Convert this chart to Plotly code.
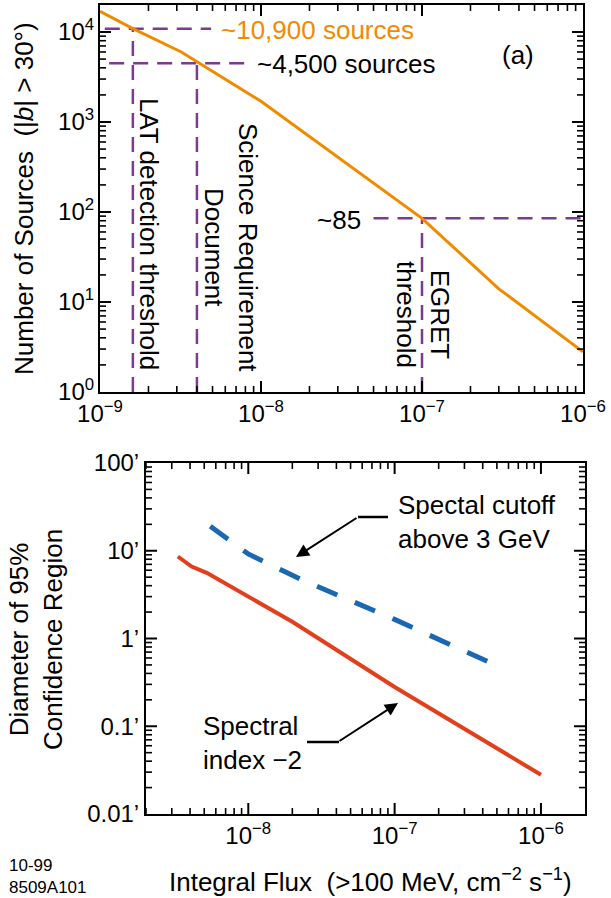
import math
import plotly.graph_objects as go

W, H = 611, 898

# ---------------- Data ----------------
# Panel (a): integral source counts N(>S) for |b| > 30 deg
flux_a = [1e-9, 1.6e-9, 3.2e-9, 1e-8, 1e-7, 3e-7, 1e-6]
nsrc_a = [17000, 10900, 6000, 1700, 85, 14, 2.8]

# Threshold markers: LAT detection, Science Requirement Document, EGRET
thr_flux = [1.6e-9, 4e-9, 1e-7]
thr_count = [10900, 4500, 85]
# extents of the horizontal reference lines (flux)
hline_from = [1.07e-9, 1.14e-9, 5.0e-8]
hline_to = [4.9e-9, 8.1e-9, 1e-6]

# Panel (b): 95% confidence region diameter (arcmin)
flux_red = [3.3e-9, 4.1e-9, 5.2e-9, 1e-8, 2e-8, 1e-7, 1e-6]
diam_red = [8.6, 6.6, 5.6, 3.0, 1.55, 0.28, 0.028]
flux_blue = [5.5e-9, 1e-8, 2.3e-8, 1e-7, 5e-7]
diam_blue = [19, 9.2, 4.7, 1.65, 0.49]

# Tick label aliases (top y axis shows 10^0 and 10^1 in power form)
ya_alias = {"1": "10<sup>0</sup>", "10": "10<sup>1</sup>"}
yb_suffix = "\u2019"

ORANGE = "#f28a00"
PURPLE = "#7b3b8f"
RED = "#e2401c"
BLUE = "#1a68b0"
FONT = "Liberation Sans, Arial, sans-serif"
TXT = 26

# axis ranges (log10) and pixel domains
rng_xa, rng_ya = [-9, -6], [0, 4.3]
rng_xb, rng_yb = [-8.699, -5.699], [-2, 2]
PX_XA, PX_YA = (100, 583), (5, 392)
PX_XB, PX_YB = (146, 585), (463, 814)


def px(x):
    return x / W


def py(y):
    return 1 - y / H


fig = go.Figure()

# ---- panel (a) ----
dash_p = "15px,9px"
for i in range(3):
    fig.add_trace(go.Scatter(x=[hline_from[i], hline_to[i]], y=[thr_count[i]] * 2,
                             mode="lines", line=dict(color=PURPLE, width=2.5, dash=dash_p),
                             xaxis="x", yaxis="y", showlegend=False, hoverinfo="skip"))
    fig.add_trace(go.Scatter(x=[thr_flux[i]] * 2, y=[1, thr_count[i]],
                             mode="lines", line=dict(color=PURPLE, width=2.5, dash=dash_p),
                             xaxis="x", yaxis="y", showlegend=False, hoverinfo="skip"))

fig.add_trace(go.Scatter(x=flux_a, y=nsrc_a, mode="lines",
                         line=dict(color=ORANGE, width=3), xaxis="x", yaxis="y",
                         showlegend=False))

# ---- panel (b) ----
fig.add_trace(go.Scatter(x=flux_red, y=diam_red, mode="lines",
                         line=dict(color=RED, width=4), xaxis="x2", yaxis="y2",
                         showlegend=False))
fig.add_trace(go.Scatter(x=flux_blue, y=diam_blue, mode="lines",
                         line=dict(color=BLUE, width=5, dash="22px,19px"), xaxis="x2", yaxis="y2",
                         showlegend=False))


# ---- inward tick marks on all four sides (major decades + minor 2..9) ----
def log_ticks(lo, hi):
    major, minor = [], []
    for e in range(math.floor(lo) - 1, math.ceil(hi) + 1):
        for k in range(1, 10):
            v = k * 10.0 ** e
            lv = math.log10(v)
            if lo + 1e-6 < lv < hi - 1e-6:
                (major if k == 1 else minor).append(v)
    return major, minor


def add_frame_ticks(xr, yr, xpx, ypx, xa, ya):
    dxp = (xr[1] - xr[0]) / (xpx[1] - xpx[0])
    dyp = (yr[1] - yr[0]) / (ypx[1] - ypx[0])
    xmaj, xmin = log_ticks(*xr)
    ymaj, ymin = log_ticks(*yr)
    for xt, yt, L, w in [(xmaj, ymaj, 11, 2), (xmin, ymin, 6, 1.6)]:
        xs, ys = [], []
        ly, lx = L * dyp, L * dxp
        for v in xt:
            xs += [v, v, None, v, v, None]
            ys += [10 ** yr[0], 10 ** (yr[0] + ly), None, 10 ** (yr[1] - ly), 10 ** yr[1], None]
        for v in yt:
            xs += [10 ** xr[0], 10 ** (xr[0] + lx), None, 10 ** (xr[1] - lx), 10 ** xr[1], None]
            ys += [v, v, None, v, v, None]
        fig.add_trace(go.Scatter(x=xs, y=ys, mode="lines", line=dict(color="black", width=w),
                                 xaxis=xa, yaxis=ya, hoverinfo="skip", showlegend=False,
                                 connectgaps=False))


add_frame_ticks(rng_xa, rng_ya, PX_XA, PX_YA, "x", "y")
add_frame_ticks(rng_xb, rng_yb, PX_XB, PX_YB, "x2", "y2")

# power-format labels are drawn at 1.25x the tick font size by plotly
POW_FS = 24 / 1.25

common = dict(type="log", tickmode="linear", tick0=0, dtick=1, ticks="",
              mirror=True, showline=True, linecolor="black", linewidth=2,
              showgrid=False, zeroline=False, automargin=False)

fig.update_layout(
    template="none", showlegend=False,
    width=W, height=H, margin=dict(l=0, r=0, t=0, b=0),
    font=dict(family=FONT, size=TXT, color="black"),
    xaxis=dict(common, domain=[px(PX_XA[0]), px(PX_XA[1])], range=rng_xa, anchor="y",
               exponentformat="power",
               tickfont=dict(family=FONT, size=POW_FS, color="black")),
    yaxis=dict(common, domain=[py(PX_YA[1]), py(PX_YA[0])], range=rng_ya, anchor="x",
               exponentformat="power", labelalias=ya_alias,
               tickfont=dict(family=FONT, size=POW_FS, color="black")),
    xaxis2=dict(common, domain=[px(PX_XB[0]), px(PX_XB[1])], range=rng_xb, anchor="y2",
                exponentformat="power",
                tickfont=dict(family=FONT, size=POW_FS, color="black")),
    yaxis2=dict(common, domain=[py(PX_YB[1]), py(PX_YB[0])], range=rng_yb, anchor="x2",
                exponentformat="none", ticksuffix=yb_suffix,
                tickfont=dict(family=FONT, size=24, color="black")),
)

ann = []


def text(t, x, y, xanchor="center", yanchor="middle", size=TXT, color="black", angle=0, align="center"):
    ann.append(dict(text=t, x=px(x), y=py(y), xref="paper", yref="paper",
                    xanchor=xanchor, yanchor=yanchor, showarrow=False, textangle=angle,
                    align=align, font=dict(family=FONT, size=size, color=color)))


# Panel (a) labels
text("~10,900 sources", 219, 30, xanchor="left", color=ORANGE)
text("~4,500 sources", 255, 64, xanchor="left")
text("(a)", 518, 55)
text("~85", 363, 220, xanchor="right")
text("LAT detection threshold", 149, 234, angle=90)
text("Science Requirement<br>Document", 231, 247, angle=90)
text("EGRET<br>threshold", 423, 314, angle=90)
text("Number of Sources  (|<i>b</i>| > 30\u00b0)", 24, 199, angle=-90)

# Panel (b) labels
text("Spectal cutoff<br>above 3 GeV", 396, 522, xanchor="left", align="left")
text("Spectral<br>index \u22122", 201, 743, xanchor="left", align="left")
text("Diameter of 95%<br>Confidence Region", 36, 640, angle=-90)
text("Integral Flux  (>100 MeV, cm<sup>\u22122</sup> s<sup>\u22121</sup>)", 370, 880)
text("10-99<br>8509A101", 7, 876, xanchor="left", size=17, align="left")

# Arrows
ann.append(dict(x=px(296), y=py(557), xref="paper", yref="paper", ax=62, ay=-40,
                axref="pixel", ayref="pixel", showarrow=True, arrowhead=2, arrowsize=1.3,
                arrowwidth=2, arrowcolor="black", text=""))
ann.append(dict(x=px(398), y=py(703), xref="paper", yref="paper", ax=-60, ay=39,
                axref="pixel", ayref="pixel", showarrow=True, arrowhead=2, arrowsize=1.3,
                arrowwidth=2, arrowcolor="black", text=""))
fig.update_layout(annotations=ann)

fig.add_shape(type="line", xref="paper", yref="paper", x0=px(358), x1=px(388),
              y0=py(517), y1=py(517), line=dict(color="black", width=2.5))
fig.add_shape(type="line", xref="paper", yref="paper", x0=px(307), x1=px(339),
              y0=py(742), y1=py(742), line=dict(color="black", width=2.5))

fig.write_html("out.html")
